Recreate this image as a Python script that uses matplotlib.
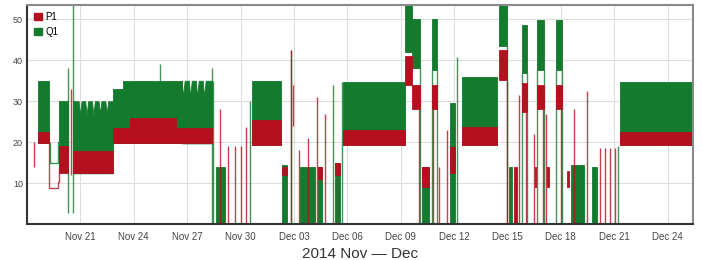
"""P1 / Q1 power readings, Nov - Dec 2014 (dense logger trace drawn as value bands)."""

from datetime import datetime, timedelta

import matplotlib

matplotlib.use("Agg")
import matplotlib.dates as mdates
import matplotlib.pyplot as plt
from matplotlib.patches import Patch

START = datetime(2014, 11, 18)

# dense oscillating stretches: (start day, end day, low, high), days since START
Q1_BANDS = [
    (0.62, 1.24, 19.7, 35.0),
    (1.80, 2.30, 14.0, 30.0),
    (4.83, 5.40, 19.7, 33.0),
    (5.40, 8.70, 19.7, 35.0),
    (10.60, 11.10, 0.0, 14.0),
    (12.64, 14.27, 19.3, 35.0),
    (14.33, 14.60, 0.0, 14.4),
    (15.34, 16.18, 0.0, 14.0),
    (16.35, 16.57, 0.0, 14.0),
    (17.30, 17.58, 0.0, 15.0),
    (17.75, 21.24, 19.3, 34.7),
    (21.24, 21.63, 42.0, 53.5),
    (21.63, 22.08, 38.0, 50.0),
    (22.19, 22.58, 0.0, 14.0),
    (22.75, 23.03, 37.6, 50.0),
    (23.76, 24.04, 0.0, 29.5),
    (24.44, 26.40, 19.3, 35.9),
    (26.52, 26.97, 43.5, 53.5),
    (27.08, 27.25, 0.0, 14.0),
    (27.81, 28.09, 37.0, 48.5),
    (28.65, 29.04, 37.6, 49.8),
    (29.72, 30.06, 37.6, 49.8),
    (30.56, 31.29, 0.0, 14.4),
    (31.74, 32.02, 0.0, 14.0),
    (33.31, 37.42, 19.3, 34.7),
]

# stretches with a saw-tooth top: low, then (day, top) outline
Q1_TEETH = [
    (12.4, [(2.58, 30.0), (2.90, 30.0), (2.98, 26.5), (3.06, 30.0), (3.27, 30.0),
            (3.35, 26.5), (3.43, 30.0), (3.65, 30.0), (3.73, 26.5), (3.81, 30.0),
            (4.02, 30.0), (4.10, 27.0), (4.18, 30.0), (4.40, 30.0), (4.48, 27.0),
            (4.56, 30.0), (4.83, 30.0)]),
    (19.7, [(8.70, 35.0), (8.76, 31.0), (8.86, 35.0), (9.10, 35.0), (9.16, 31.0),
            (9.26, 35.0), (9.49, 35.0), (9.55, 31.0), (9.65, 35.0), (9.88, 35.0),
            (9.94, 31.0), (10.04, 35.0), (10.39, 35.0)]),
]

P1_BANDS = [
    (0.62, 1.24, 19.7, 22.4),
    (1.80, 2.30, 12.5, 19.0),
    (2.58, 4.83, 12.4, 17.8),
    (4.83, 5.80, 19.7, 23.5),
    (5.80, 8.40, 19.7, 26.0),
    (8.40, 10.39, 19.7, 23.5),
    (12.64, 14.27, 19.3, 25.4),
    (14.33, 14.60, 12.0, 14.0),
    (16.35, 16.57, 11.0, 14.0),
    (17.30, 17.58, 12.0, 15.0),
    (17.75, 21.24, 19.3, 23.0),
    (21.24, 21.63, 34.0, 41.0),
    (21.63, 22.08, 28.0, 34.0),
    (22.19, 22.58, 9.0, 14.0),
    (22.75, 23.03, 28.0, 34.0),
    (23.76, 24.04, 12.4, 18.8),
    (24.44, 26.40, 19.3, 23.7),
    (26.52, 26.97, 35.1, 42.4),
    (27.36, 27.52, 0.0, 14.0),
    (27.81, 28.09, 27.3, 34.4),
    (28.52, 28.60, 9.0, 14.0),
    (28.65, 29.04, 28.0, 34.0),
    (29.25, 29.32, 9.0, 14.0),
    (29.72, 30.06, 28.0, 34.0),
    (30.37, 30.45, 9.0, 13.0),
    (33.31, 37.42, 19.3, 22.4),
]

# isolated jumps: (day, low, high)
Q1_SPIKES = [
    (2.30, 2.6, 38.0), (2.58, 2.6, 53.5), (7.47, 20.0, 39.0), (10.39, 0.0, 38.0),
    (10.45, 0.0, 35.0), (12.53, 0.0, 30.0), (14.83, 0.0, 42.6), (17.19, 0.0, 34.0),
    (17.70, 0.0, 34.7), (22.10, 0.0, 38.0), (22.75, 0.0, 37.6), (23.03, 0.0, 37.6),
    (24.16, 0.0, 40.7), (26.97, 0.0, 43.5), (27.81, 0.0, 37.0), (28.09, 0.0, 37.0),
    (28.65, 0.0, 37.6), (29.04, 0.0, 37.6), (29.72, 0.0, 37.6), (30.06, 0.0, 37.6),
    (33.20, 0.0, 19.0),
]

P1_SPIKES = [
    (0.40, 14.0, 20.0), (2.45, 12.0, 33.0), (10.84, 0.0, 28.0), (11.29, 0.0, 19.0),
    (11.69, 0.0, 19.0), (12.00, 0.0, 19.0), (12.30, 0.0, 23.7), (14.83, 0.0, 42.6),
    (14.94, 24.0, 34.0), (15.28, 0.0, 18.0), (15.79, 0.0, 21.0), (16.29, 0.0, 31.0),
    (16.74, 0.0, 27.0), (22.05, 0.0, 28.0), (22.80, 0.0, 28.0), (23.15, 0.0, 14.0),
    (23.60, 0.0, 23.0), (26.97, 0.0, 35.0), (27.64, 0.0, 31.5), (28.05, 0.0, 27.3),
    (28.48, 0.0, 22.0), (28.98, 0.0, 28.0), (29.16, 0.0, 27.0), (30.00, 0.0, 28.0),
    (30.73, 0.0, 28.0), (31.48, 0.0, 32.5), (32.19, 0.0, 18.5), (32.47, 0.0, 18.5),
    (32.75, 0.0, 18.5), (33.03, 0.0, 18.5),
]

# thin stepped stretches: (day, value) points
P1_TRACE = [(1.24, 19.7), (1.24, 8.7), (1.74, 8.7), (1.74, 10.3), (1.80, 10.3), (1.80, 13.6)]
Q1_TRACE = [(1.30, 19.7), (1.30, 15.0), (1.74, 15.0), (1.74, 20.0)]

X_END = 37.42
Y_TICKS = [10, 20, 30, 40, 50]
TICK_DAYS = [3, 6, 9, 12, 15, 18, 21, 24, 27, 30, 33, 36]

RED = "#b5101f"
GREEN = "#147a2d"


def to_num(day):
    return mdates.date2num(START + timedelta(days=day))


def draw_series(ax, bands, spikes, trace, color, teeth=()):
    for t0, t1, lo, hi in bands:
        ax.fill_between([to_num(t0), to_num(t1)], lo, hi, color=color, lw=0.6, zorder=2)
    for lo, outline in teeth:
        xs, tops = zip(*outline)
        ax.fill_between([to_num(t) for t in xs], lo, tops, color=color, lw=0.6, zorder=2)
    for t, lo, hi in spikes:
        ax.vlines(to_num(t), lo, hi, color=color, lw=1.0, alpha=0.8, zorder=2)
    xs, ys = zip(*trace)
    ax.plot([to_num(t) for t in xs], ys, color=color, lw=1.0, alpha=0.8, zorder=2)


def main():
    plt.rcParams["font.family"] = ["Liberation Sans", "DejaVu Sans"]
    fig = plt.figure(figsize=(7.02, 2.6), dpi=100)
    ax = fig.add_axes([0.0385, 0.138, 0.9485, 0.843])

    draw_series(ax, Q1_BANDS, Q1_SPIKES, Q1_TRACE, GREEN, teeth=Q1_TEETH)
    draw_series(ax, P1_BANDS, P1_SPIKES, P1_TRACE, RED)

    ax.set_xlim(to_num(0), to_num(X_END))
    ax.set_ylim(0, 53.5)
    ax.set_yticks(Y_TICKS)
    ax.set_xticks([to_num(d) for d in TICK_DAYS])
    ax.xaxis.set_major_formatter(mdates.DateFormatter("%b %d"))
    ax.grid(True, color="#dddddd", lw=0.8, zorder=0)
    ax.set_axisbelow(True)
    ax.tick_params(length=0, labelsize=7, labelcolor="#444444", pad=6)
    ax.tick_params(axis="y", labelsize=6.5, pad=3)

    for side in ["top", "right"]:
        ax.spines[side].set_color("#8a8a8a")
        ax.spines[side].set_linewidth(1.5)
    for side in ["left", "bottom"]:
        ax.spines[side].set_color("#333333")
        ax.spines[side].set_linewidth(1.5)

    ax.set_xlabel("2014 Nov — Dec", fontsize=11, color="#333333", labelpad=3)

    handles = [Patch(color=RED, label="P1"), Patch(color=GREEN, label="Q1")]
    ax.legend(
        handles=handles, loc="upper left", frameon=False, fontsize=7,
        handlelength=0.8, handleheight=0.8, handletextpad=0.4,
        labelspacing=0.5, borderaxespad=0.3,
    )

    fig.savefig("out.png", dpi=100)


if __name__ == "__main__":
    main()
